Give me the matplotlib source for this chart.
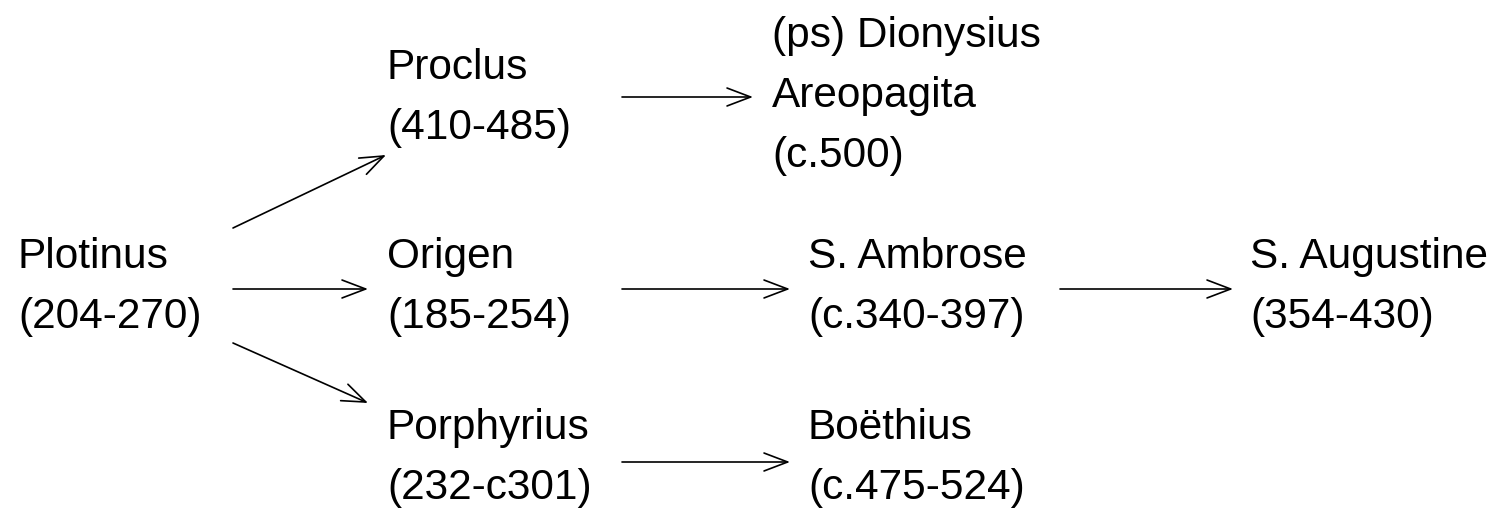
import matplotlib
matplotlib.use("Agg")
import matplotlib.pyplot as plt
from matplotlib.patches import ArrowStyle

# ---- data ----
node_ids = ["plotinus", "proclus", "origen", "porphyrius", "dionysius",
            "ambrose", "boethius", "augustine"]
node_names = ["Plotinus", "Proclus", "Origen", "Porphyrius",
              "(ps) Dionysius\nAreopagita", "S. Ambrose", "Boëthius", "S. Augustine"]
node_dates = ["(204-270)", "(410-485)", "(185-254)", "(232-c301)", "(c.500)",
              "(c.340-397)", "(c.475-524)", "(354-430)"]
edges = [("plotinus", "proclus"), ("plotinus", "origen"), ("plotinus", "porphyrius"),
         ("proclus", "dionysius"), ("origen", "ambrose"), ("porphyrius", "boethius"),
         ("ambrose", "augustine")]

# ---- layout (pixel coordinates) ----
W, H = 1499, 509
text_pos = {  # left x, baseline y of first line
    "plotinus": (18, 268), "proclus": (387, 79), "origen": (387, 268),
    "porphyrius": (387, 439), "dionysius": (772, 47), "ambrose": (808, 268),
    "boethius": (808, 439), "augustine": (1250, 268),
}
line_gap = 60
arrow_pos = {
    ("plotinus", "proclus"): ((233, 228), (386, 155)),
    ("plotinus", "origen"): ((233, 289), (368, 289)),
    ("plotinus", "porphyrius"): ((233, 343), (368, 403)),
    ("proclus", "dionysius"): ((622, 97), (753, 97)),
    ("origen", "ambrose"): ((622, 289), (790, 289)),
    ("porphyrius", "boethius"): ((622, 462), (790, 462)),
    ("ambrose", "augustine"): ((1060, 289), (1233, 289)),
}

fig = plt.figure(figsize=(W / 100, H / 100), dpi=100)
ax = fig.add_axes([0, 0, 1, 1])
ax.set_xlim(0, W)
ax.set_ylim(H, 0)
ax.axis("off")

font = dict(family="Liberation Sans", fontsize=30.5, color="black")
for nid, name, date in zip(node_ids, node_names, node_dates):
    x, y = text_pos[nid]
    lines = name.split("\n") + [date]
    for i, ln in enumerate(lines):
        ax.text(x, y + i * line_gap, ln, ha="left", va="baseline", **font)

style = ArrowStyle("->", head_length=1.0, head_width=0.38)
for e in edges:
    (x0, y0), (x1, y1) = arrow_pos[e]
    ax.annotate("", xy=(x1, y1), xytext=(x0, y0),
                arrowprops=dict(arrowstyle=style, mutation_scale=17,
                                lw=1.2, color="black", shrinkA=0, shrinkB=0))

fig.savefig("out.png", dpi=100)
